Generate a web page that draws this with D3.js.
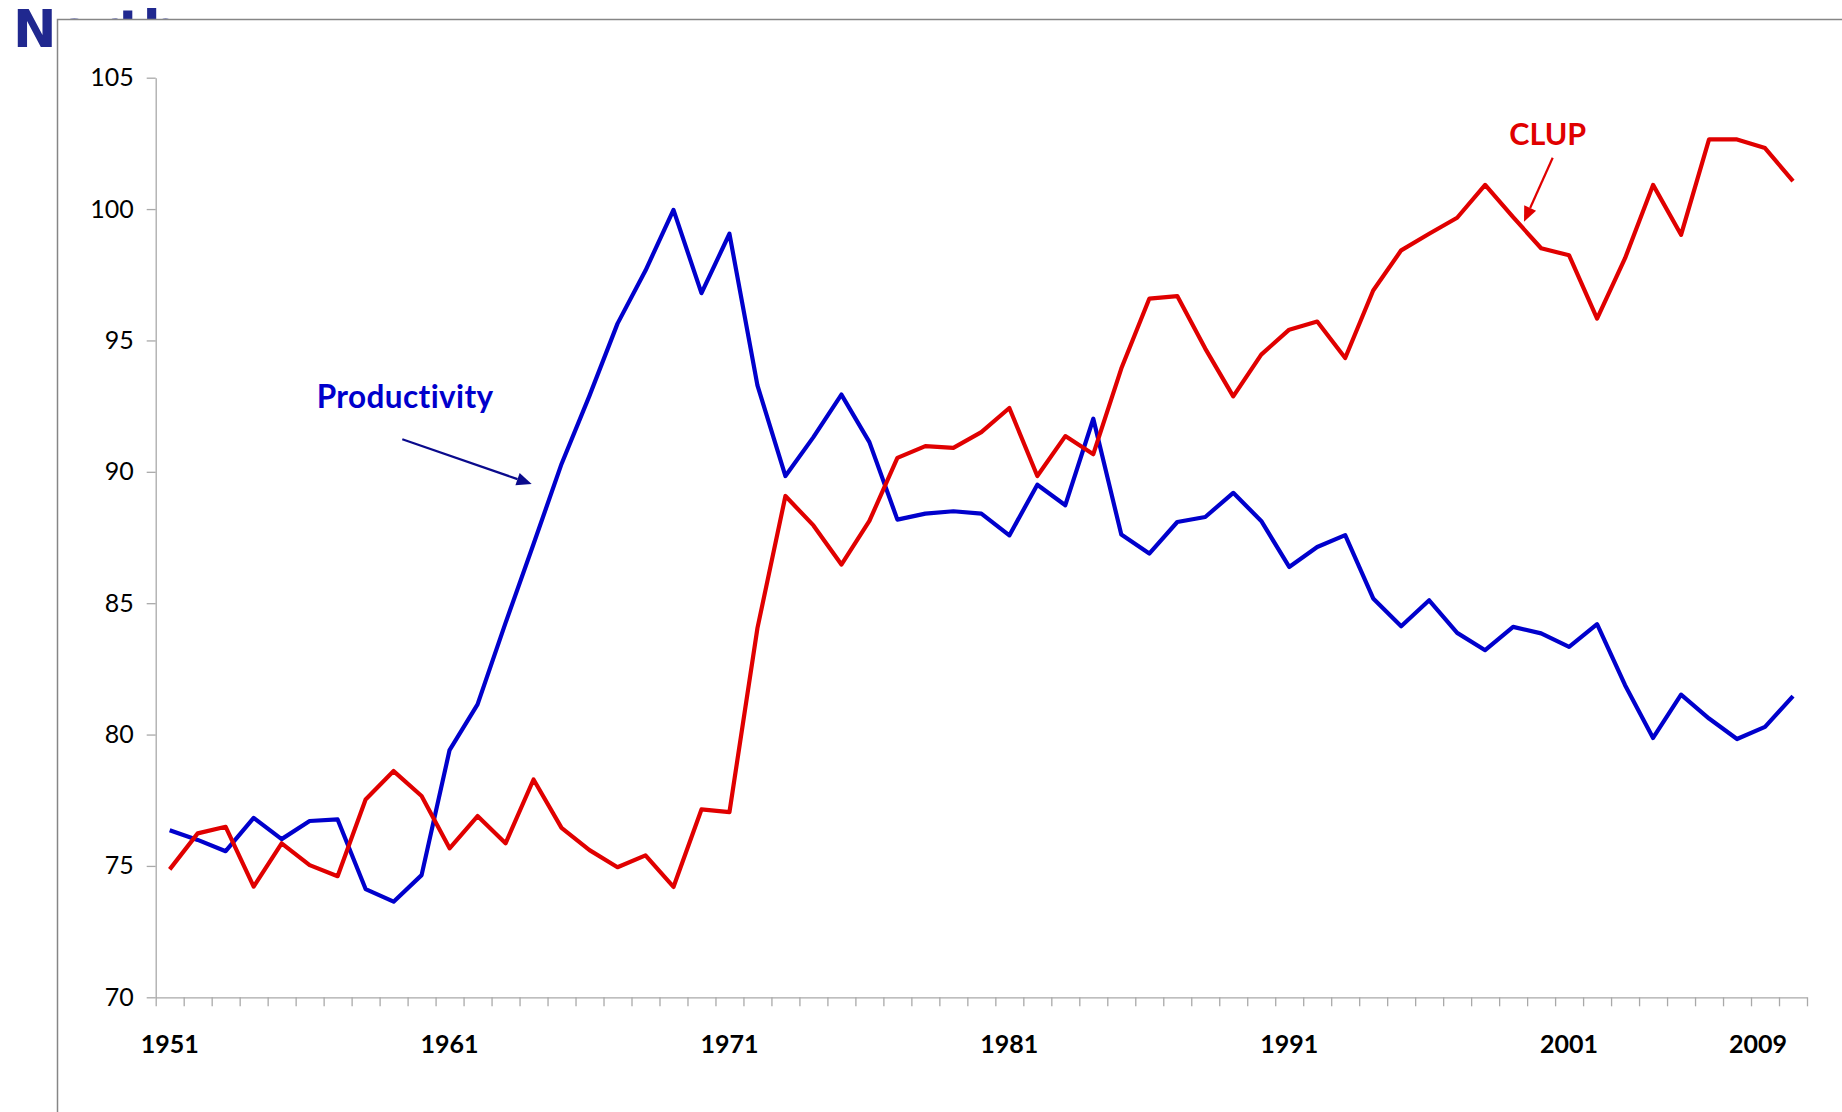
<!DOCTYPE html>
<html>
<head>
<meta charset="utf-8">
<script src="https://cdn.jsdelivr.net/npm/d3@7"></script>
<style>
  html, body { margin: 0; padding: 0; background: #fff; overflow: hidden; }
  svg { display: block; }
</style>
</head>
<body>
<svg id="chart" width="1842" height="1112"></svg>
<script>
// Annual index values, 1951–2009
const years = [
  1951, 1952, 1953, 1954, 1955, 1956, 1957, 1958, 1959, 1960,
  1961, 1962, 1963, 1964, 1965, 1966, 1967, 1968, 1969, 1970,
  1971, 1972, 1973, 1974, 1975, 1976, 1977, 1978, 1979, 1980,
  1981, 1982, 1983, 1984, 1985, 1986, 1987, 1988, 1989, 1990,
  1991, 1992, 1993, 1994, 1995, 1996, 1997, 1998, 1999, 2000,
  2001, 2002, 2003, 2004, 2005, 2006, 2007, 2008, 2009
];

const productivity = [
  76.36, 75.99, 75.56, 76.83, 76.02, 76.71, 76.77, 74.12, 73.64, 74.65,
  79.41, 81.15, 84.25, 87.25, 90.30, 92.90, 95.64, 97.66, 99.97, 96.80,
  99.06, 93.29, 89.84, 91.32, 92.94, 91.13, 88.18, 88.41, 88.50, 88.41,
  87.58, 89.51, 88.73, 92.02, 87.61, 86.89, 88.09, 88.28, 89.20, 88.13,
  86.38, 87.14, 87.59, 85.18, 84.12, 85.11, 83.87, 83.21, 84.10, 83.85,
  83.34, 84.20, 81.88, 79.87, 81.52, 80.61, 79.83, 80.29, 81.46
];

const clup = [
  74.87, 76.24, 76.49, 74.21, 75.86, 75.03, 74.61, 77.53, 78.61, 77.66,
  75.67, 76.90, 75.86, 78.29, 76.45, 75.60, 74.95, 75.40, 74.20, 77.15,
  77.05, 84.05, 89.08, 87.96, 86.47, 88.13, 90.53, 90.98, 90.91, 91.51,
  92.43, 89.84, 91.36, 90.67, 93.93, 96.59, 96.69, 94.69, 92.87, 94.46,
  95.41, 95.72, 94.33, 96.90, 98.43, 99.06, 99.67, 100.92, 99.69, 98.51,
  98.24, 95.83, 98.13, 100.92, 99.02, 102.65, 102.65, 102.32, 101.06
];

const yTickValues = [70, 75, 80, 85, 90, 95, 100, 105];
const xTickLabels = [1951, 1961, 1971, 1981, 1991, 2001, 2009];

const W = 1842, H = 1112;
const plot = { left: 155.7, right: 1807, top: 77.7, bottom: 997.3 };
const BLUE = "#0000cc", RED = "#e00000", NAVY = "#0a0a8c";
const AXIS = "#a9a9a9";
const FONT = "Lato, 'Open Sans', sans-serif";

const svg = d3.select("#chart");

// Slide heading, partly hidden behind the chart frame
svg.append("text")
  .attr("x", 13).attr("y", 46.7)
  .attr("font-family", "'DejaVu Sans', Verdana, sans-serif")
  .attr("font-weight", "bold").attr("font-size", 52)
  .attr("fill", "#20288f")
  .text("North");

// Chart frame
svg.append("rect")
  .attr("x", 57.5).attr("y", 19.5)
  .attr("width", W).attr("height", H)
  .attr("fill", "#fff")
  .attr("stroke", "#868686").attr("stroke-width", 1.5);

// Scales
const x = d3.scaleBand().domain(years).range([plot.left, plot.right]);
const cx = yr => x(yr) + x.bandwidth() / 2;
const y = d3.scaleLinear().domain([70, 105]).range([plot.bottom, plot.top]);

// Y axis
const gY = svg.append("g")
  .attr("transform", `translate(${plot.left},0)`)
  .call(d3.axisLeft(y).tickValues(yTickValues).tickSize(9).tickSizeOuter(0).tickPadding(13));
gY.select(".domain").attr("stroke", AXIS).attr("stroke-width", 1.3);
gY.selectAll(".tick line").attr("stroke", AXIS).attr("stroke-width", 1.3);
gY.selectAll(".tick text")
  .attr("font-family", FONT).attr("font-size", 25).attr("fill", "#000");

// X axis: tick marks sit on category boundaries
const edge = d3.scaleLinear().domain([0, years.length]).range([plot.left, plot.right]);
const gX = svg.append("g")
  .attr("transform", `translate(0,${plot.bottom})`)
  .call(d3.axisBottom(edge).tickValues(d3.range(years.length + 1)).tickFormat("").tickSize(9).tickSizeOuter(0));
gX.select(".domain").attr("stroke", AXIS).attr("stroke-width", 1.3);
gX.selectAll(".tick line").attr("stroke", AXIS).attr("stroke-width", 1.3);

// Category labels (the last one is pulled in to stay inside the axis)
svg.append("g").selectAll("text")
  .data(xTickLabels)
  .join("text")
  .attr("x", d => cx(d) + (d === years[years.length - 1] ? -35 : 0))
  .attr("y", 1053)
  .attr("text-anchor", "middle")
  .attr("font-family", FONT).attr("font-weight", "bold").attr("font-size", 25)
  .attr("fill", "#000")
  .text(d => d);

// Series lines
const line = d3.line()
  .x((d, i) => cx(years[i]))
  .y(d => y(d));

svg.append("path")
  .datum(productivity)
  .attr("d", line)
  .attr("fill", "none").attr("stroke", BLUE)
  .attr("stroke-width", 4.2).attr("stroke-linejoin", "round");

svg.append("path")
  .datum(clup)
  .attr("d", line)
  .attr("fill", "none").attr("stroke", RED)
  .attr("stroke-width", 4.2).attr("stroke-linejoin", "round");

// Annotations with arrows
function arrow(x1, y1, x2, y2, color) {
  const ang = Math.atan2(y2 - y1, x2 - x1);
  const len = 15, half = 6.5;
  const bx = x2 - len * Math.cos(ang), by = y2 - len * Math.sin(ang);
  svg.append("line")
    .attr("x1", x1).attr("y1", y1).attr("x2", bx).attr("y2", by)
    .attr("stroke", color).attr("stroke-width", 2.2);
  const px = -Math.sin(ang) * half, py = Math.cos(ang) * half;
  svg.append("path")
    .attr("d", `M${x2},${y2}L${bx + px},${by + py}L${bx - px},${by - py}Z`)
    .attr("fill", color);
}

svg.append("text")
  .attr("x", 316.7).attr("y", 408.3)
  .attr("font-family", FONT).attr("font-weight", "bold").attr("font-size", 31.5)
  .attr("letter-spacing", 0.4)
  .attr("fill", BLUE)
  .text("Productivity");
arrow(402.3, 439.3, 531.7, 484, NAVY);

svg.append("text")
  .attr("x", 1509.3).attr("y", 145)
  .attr("font-family", FONT).attr("font-weight", "bold").attr("font-size", 30.5)
  .attr("fill", RED)
  .text("CLUP");
arrow(1552.7, 157.7, 1524, 221.7, RED);
</script>
</body>
</html>
